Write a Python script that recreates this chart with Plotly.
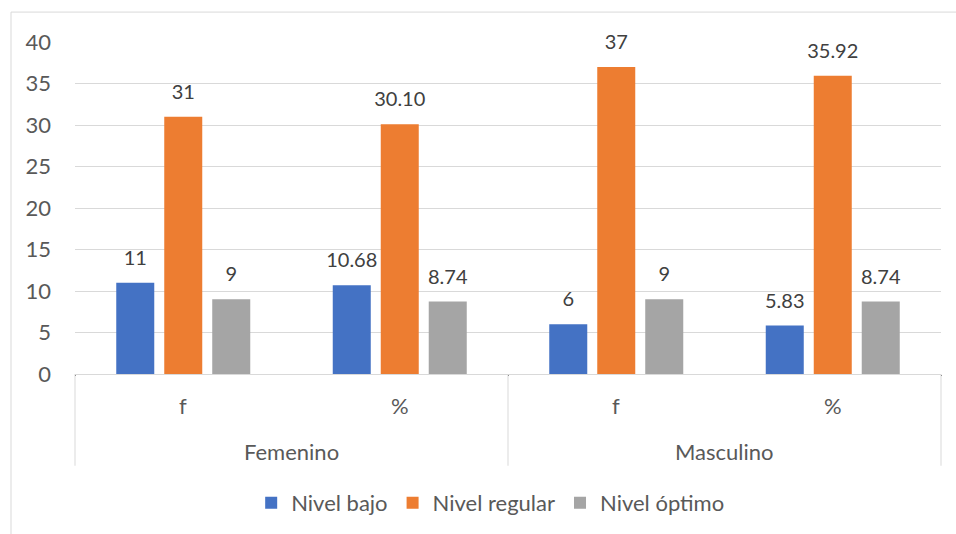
import plotly.graph_objects as go

groups = ["Femenino", "Femenino", "Masculino", "Masculino"]
cats = ["f", "%", "f", "%"]
series_names = ["Nivel bajo", "Nivel regular", "Nivel óptimo"]
nivel_bajo = [11, 10.68, 6, 5.83]
nivel_regular = [31, 30.10, 37, 35.92]
nivel_optimo = [9, 8.74, 9, 8.74]
colors = ["#4472C4", "#ED7D31", "#A5A5A5"]
y_ticks = [0, 5, 10, 15, 20, 25, 30, 35, 40]

FONT = "Lato"
TXT = "#595959"
GRID = "#d9d9d9"

def fmt(vals):
    return [f"{v:g}" if c == "f" else f"{v:.2f}" for v, c in zip(vals, cats)]

fig = go.Figure()
x = [groups, cats]
for name, vals, col in zip(series_names, [nivel_bajo, nivel_regular, nivel_optimo], colors):
    fig.add_trace(go.Bar(x=x, y=vals, name=name, marker=dict(color=col, line=dict(width=0)),
                         offsetgroup=name))
for name, vals in zip(series_names, [nivel_bajo, nivel_regular, nivel_optimo]):
    fig.add_trace(go.Scatter(x=x, y=vals, mode="markers+text", text=fmt(vals),
                             textposition="top center",
                             textfont=dict(family=FONT, size=20, color="#404040"),
                             marker=dict(size=19, opacity=0), showlegend=False,
                             offsetgroup=name, hoverinfo="skip", cliponaxis=False))

fig.update_layout(
    width=956, height=534,
    margin=dict(l=75, r=15, t=42, b=159),
    paper_bgcolor="white", plot_bgcolor="white",
    barmode="group", bargap=0.335, bargroupgap=0.208,
    scattermode="group", scattergap=0.335,
    font=dict(family=FONT, size=22, color=TXT),
    legend=dict(orientation="h", x=0.48, xanchor="center", y=-0.384, yanchor="middle",
                font=dict(family=FONT, size=22, color=TXT), bgcolor="rgba(0,0,0,0)"),
    showlegend=True,
)
fig.update_yaxes(range=[0, 40], tickvals=y_ticks, showgrid=True, gridcolor=GRID, gridwidth=1,
                 zeroline=False, showline=False, ticks="", ticklabelstandoff=23,
                 tickfont=dict(family=FONT, size=22, color=TXT))
fig.update_xaxes(type="multicategory", showline=True, linecolor=GRID, linewidth=1,
                 showticklabels=False, ticks="")

# Two-level category labels (inner: f / %, outer: gender) and dividers
n = len(cats)
for i, c in enumerate(cats):
    fig.add_annotation(text=c, xref="paper", yref="paper", x=(i + 0.5) / n, y=-0.0961,
                       xanchor="center", yanchor="middle", showarrow=False,
                       font=dict(family=FONT, size=22, color=TXT))
uniq = []
for g in groups:
    if g not in uniq:
        uniq.append(g)
start = 0
bounds = [0.0]
for g in uniq:
    cnt = groups.count(g)
    fig.add_annotation(text=g, xref="paper", yref="paper", x=(start + cnt / 2) / n, y=-0.2342,
                       xanchor="center", yanchor="middle", showarrow=False,
                       font=dict(family=FONT, size=22, color=TXT))
    start += cnt
    bounds.append(start / n)
for b in bounds:
    fig.add_shape(type="line", xref="paper", yref="paper", x0=b, x1=b, y0=-0.2763, y1=0,
                  line=dict(color=GRID, width=1))

fig.add_shape(type="rect", xref="paper", yref="paper", x0=-0.0739, x1=1.03, y0=-0.6, y1=1.0901,
              line=dict(color=GRID, width=1), fillcolor="rgba(0,0,0,0)", layer="below")
fig.write_html("out.html")
